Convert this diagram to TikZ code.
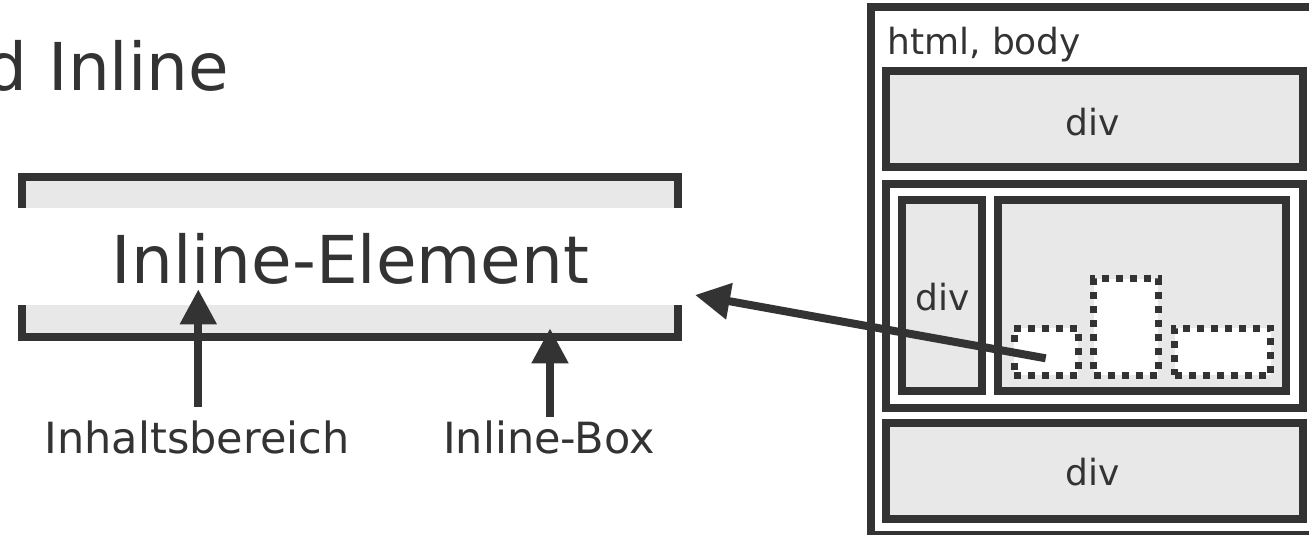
\documentclass[tikz,border=0pt]{standalone}
\usepackage{fontspec}
\setmainfont{DejaVu Sans}
\usetikzlibrary{arrows.meta}
\definecolor{ink}{HTML}{333333}
\definecolor{boxfill}{HTML}{E8E8E8}
\begin{document}
\begin{tikzpicture}[x=1pt,y=-1pt,line cap=butt,
  frame/.style={draw=ink,line width=8pt,fill=white,inner sep=0pt,outer sep=0pt},
  divbox/.style={frame,fill=boxfill},
  dotbox/.style={draw=ink,line width=7pt,dash pattern=on 7pt off 7pt,fill=white,inner sep=0pt,outer sep=0pt},
  arr/.style={draw=ink,line width=8pt,-{Triangle[length=35pt,width=35pt]}},
  lbl/.style={text=ink,inner sep=0pt,anchor=base},
  huge/.style={font=\fontsize{66}{70}\selectfont},
  mid/.style={font=\fontsize{43}{48}\selectfont},
  small/.style={font=\fontsize{36}{40}\selectfont}]
\useasboundingbox (0,0) rectangle (1309,535);

% heading
\node[lbl,huge,anchor=base west] (title) at (-14.4,90) {d Inline};

% inline element: padding bands with bracket borders
\fill[boxfill] (22,176.5) rectangle (678,207.7);
\fill[boxfill] (22,305) rectangle (678,336.5);
\draw[ink,line width=8pt] (22,207.7) -- (22,176.5) -- (678,176.5) -- (678,207.7);
\draw[ink,line width=8pt] (22,305) -- (22,336.5) -- (678,336.5) -- (678,305);
\node[lbl,huge] (elem) at (350.5,283.3) {Inline-Element};

% labels under the inline element
\node[lbl,mid] (content) at (197,453.3) {Inhaltsbereich};
\node[lbl,mid] (ibox) at (549,453.3) {Inline-Box};
\coordinate (contentTail) at (198.3,406.7);
\coordinate (contentTip) at (198.3,289.3);
\coordinate (iboxTail) at (550,416.7);
\coordinate (iboxTip) at (550,328.3);
\draw[arr] (contentTail) -- (contentTip);
\draw[arr] (iboxTail) -- (iboxTip);

% page layout: html/body with nested divs
\node[frame,minimum width=444pt,minimum height=527.5pt] (html) at (1093,271.25) {};
\node[lbl,small,anchor=base west] (htmllbl) at (887,55) {html, body};
\node[divbox,minimum width=416.5pt,minimum height=96pt] (topdiv) at (1094.25,119) {};
\node[lbl,small] at (1092.5,135) {div};
\node[frame,minimum width=416.5pt,minimum height=223.5pt] (wrap) at (1094.25,295.75) {};
\node[divbox,minimum width=80pt,minimum height=191.5pt] (side) at (942,295.25) {};
\node[lbl,small] at (942.5,310) {div};
\node[divbox,minimum width=288pt,minimum height=191.5pt] (main) at (1142,295.25) {};
\node[divbox,minimum width=416.5pt,minimum height=96pt] (botdiv) at (1094.25,471) {};
\node[lbl,small] at (1092.5,485) {div};

% inline boxes inside the main div
\node[dotbox,minimum width=64.3pt,minimum height=46.7pt] (ib1) at (1046.15,351.65) {};
\node[dotbox,minimum width=64.3pt,minimum height=96.2pt] (ib2) at (1125.85,326.9) {};
\node[dotbox,minimum width=96.3pt,minimum height=46.7pt] (ib3) at (1222.65,351.65) {};

% pointer from the inline box to the enlarged view
\coordinate (zoomTail) at (1045.7,358.3);
\coordinate (zoomTip) at (695,295);
\draw[arr] (zoomTail) -- (zoomTip);
\end{tikzpicture}
\end{document}
